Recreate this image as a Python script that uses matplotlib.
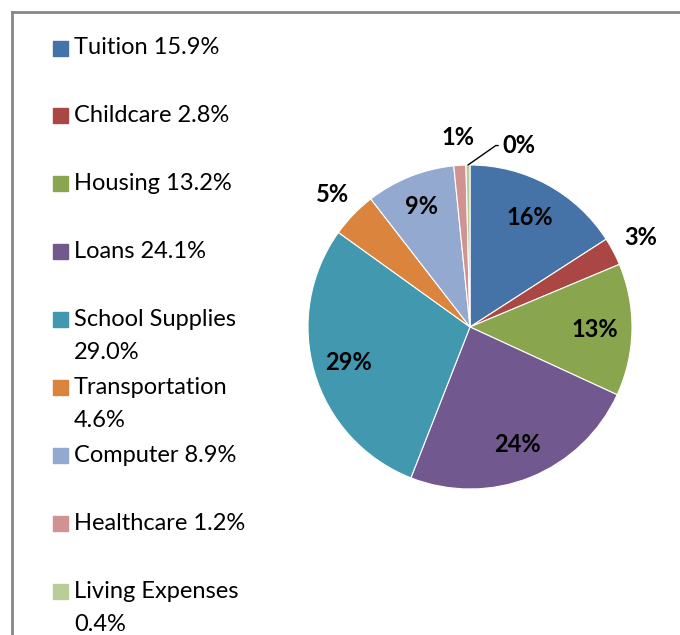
import numpy as np
import matplotlib.pyplot as plt
from matplotlib.lines import Line2D

plt.rcParams['font.family'] = ['Lato', 'DejaVu Sans']

# expense categories and their share of the budget (%)
categories = ['Tuition', 'Childcare', 'Housing', 'Loans', 'School Supplies',
              'Transportation', 'Computer', 'Healthcare', 'Living Expenses']
shares = [15.9, 2.8, 13.2, 24.1, 29.0, 4.6, 8.9, 1.2, 0.4]
legend_labels = ['Tuition 15.9%', 'Childcare 2.8%', 'Housing 13.2%', 'Loans 24.1%',
                 'School Supplies\n29.0%', 'Transportation\n4.6%', 'Computer 8.9%',
                 'Healthcare 1.2%', 'Living Expenses\n0.4%']
colors = ['#4572A7', '#AA4643', '#89A54E', '#71588F', '#4198AF',
          '#DB843D', '#93A9CF', '#D19392', '#B9CD96']

W, H = 680, 635
fig = plt.figure(figsize=(W / 100, H / 100), dpi=100)

# pie axes, centre (470, 327) px, radius 162 px
R = 162
cx, cy = 470, 327
half = 1.3 * R
ax = fig.add_axes([(cx - half) / W, (H - cy - half) / H, 2 * half / W, 2 * half / H])
wedges, _ = ax.pie(shares, colors=colors, startangle=90, counterclock=False,
                   wedgeprops=dict(edgecolor='white', linewidth=0.8))
ax.set_xlim(-1.3, 1.3)
ax.set_ylim(-1.3, 1.3)
ax.set_aspect('equal')
ax.axis('off')

# percentage labels, small slices put outside the pie
dist = [0.77, 1.19, 0.77, 0.78, 0.78, 1.18, 0.80, 1.17, None]
for w, v, d in zip(wedges, shares, dist):
    ang = np.deg2rad((w.theta1 + w.theta2) / 2)
    txt = '%d%%' % round(v)
    if d is None:
        # leader line for the tiny slice
        x0, y0 = np.cos(ang), np.sin(ang)
        ax.annotate(txt, xy=(x0, y0), xytext=(0.2, 1.12), fontsize=17,
                    fontweight='bold', va='center', ha='left',
                    arrowprops=dict(arrowstyle='-', color='black', lw=1,
                                    shrinkA=1, shrinkB=0,
                                    connectionstyle='angle,angleA=0,angleB=35,rad=0'))
        continue
    ax.text(d * np.cos(ang), d * np.sin(ang), txt, ha='center', va='center',
            fontsize=17, fontweight='bold')

# legend drawn by hand, fixed row pitch like the original
top, step, line_h = 48, 67.9, 33
for i, (lab, c) in enumerate(zip(legend_labels, colors)):
    y = top + i * step
    fig.patches.append(plt.Rectangle((53 / W, 1 - (y + 7.5) / H), 15 / W, 15 / H,
                                     transform=fig.transFigure, color=c))
    for k, part in enumerate(lab.split('\n')):
        fig.text(74 / W, 1 - (y + k * line_h) / H, part, fontsize=17,
                 va='center', ha='left')

# chart frame
fig.lines.append(Line2D([12 / W, 1.0], [1 - 12 / H] * 2, color='#888888', lw=2,
                        transform=fig.transFigure))
fig.lines.append(Line2D([12 / W] * 2, [0, 1 - 12 / H], color='#888888', lw=2,
                        transform=fig.transFigure))

fig.savefig('out.png', dpi=100)
